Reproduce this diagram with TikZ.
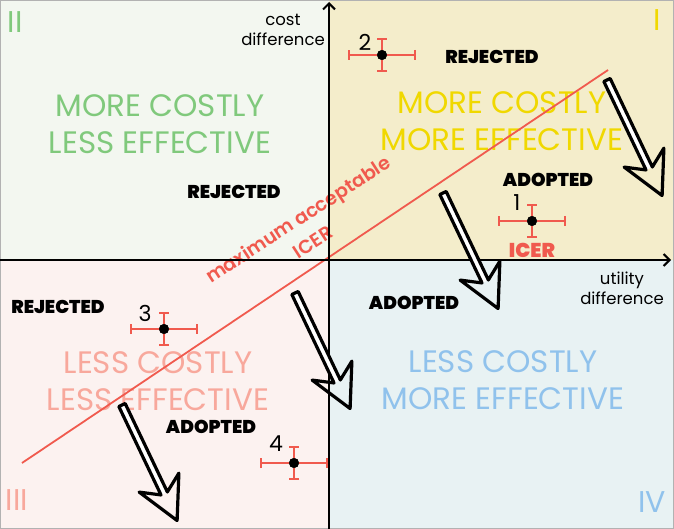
\documentclass[tikz,border=0pt]{standalone}
\usepackage{fontspec}
\setmainfont{Poppins}
\newfontfamily\heavy{Poppins Black}
\newfontfamily\semi{Poppins SemiBold}
\usetikzlibrary{arrows.meta}
\definecolor{bgII}{HTML}{F3F7F0}
\definecolor{bgI}{HTML}{F4EDCB}
\definecolor{bgIII}{HTML}{FCF2F0}
\definecolor{bgIV}{HTML}{E8F2F3}
\definecolor{cgreen}{HTML}{80C97C}
\definecolor{cyellow}{HTML}{F0D800}
\definecolor{csalmon}{HTML}{F8A89C}
\definecolor{cblue}{HTML}{90C2EC}
\definecolor{cred}{HTML}{F05A4E}
\begin{document}
\begin{tikzpicture}[x=1pt,y=-1pt,
 quad/.style={font=\fontsize{31}{37}\selectfont, align=center, inner sep=0pt},
 verdict/.style={font=\heavy\fontsize{18.5}{22}\selectfont, inner sep=0pt},
 axlabel/.style={font=\fontsize{16.5}{20}\selectfont, align=center, inner sep=0pt},
 roman/.style={font=\fontsize{30}{36}\selectfont, inner sep=0pt},
 dot/.style={circle, fill=black, minimum size=10pt, inner sep=0pt},
 num/.style={font=\fontsize{22}{26}\selectfont, inner sep=0pt},
 redtext/.style={text=cred, font=\semi\fontsize{19}{21}\selectfont, rotate=33, inner sep=0pt},
 errbar/.style={draw=cred, line width=1.8pt, {Bar[width=10pt,line width=1.8pt]}-{Bar[width=10pt,line width=1.8pt]}},
 axis/.style={line width=2pt, -{Straight Barb[length=6pt,width=12pt,line width=2pt]}},
 hollow/.pic={
   \fill[white] (0,3.5) rectangle (98,-3.5);
   \draw[line width=3.2pt, line join=round] (0,3.5) -- (98,3.5) -- (86,22) -- (128,0) -- (86,-22) -- (98,-3.5) -- (0,-3.5) -- cycle;
 }
]
\useasboundingbox (0,0) rectangle (674,529);
% quadrant backgrounds
\fill[bgII] (0,0) rectangle (329,260);
\fill[bgI] (329,0) rectangle (674,260);
\fill[bgIII] (0,260) rectangle (329,529);
\fill[bgIV] (329,260) rectangle (674,529);
\draw[black!30, line width=1pt] (0.5,0.5) rectangle (673.5,528.5);

% roman numerals
\node[roman, text=cgreen] (rII) at (15,22) {II};
\node[roman, text=cyellow] (rI) at (657,20) {I};
\node[roman, text=csalmon] (rIII) at (17,500) {III};
\node[roman, text=cblue] (rIV) at (652,502) {IV};

% axis labels
\node[axlabel] (ylab) at (283,30) {cost\\difference};
\node[axlabel] (xlab) at (622,288) {utility\\difference};

% quadrant labels
\node[quad, text=cgreen] (qII) at (160,124) {MORE COSTLY\\LESS EFFECTIVE};
\node[quad, text=cyellow] (qI) at (502,121) {MORE COSTLY\\MORE EFFECTIVE};
\node[quad, text=csalmon] (qIII) at (158,381) {LESS COSTLY\\LESS EFFECTIVE};
\node[quad, text=cblue] (qIV) at (503,380) {LESS COSTLY\\MORE EFFECTIVE};

% verdicts
\node[verdict] (vII) at (234,192) {REJECTED};
\node[verdict] (vIr) at (492,57) {REJECTED};
\node[verdict] (vIa) at (548,180) {ADOPTED};
\node[verdict] (vIIIr) at (58,307) {REJECTED};
\node[verdict] (vIIIa) at (211,427) {ADOPTED};
\node[verdict] (vIV) at (414,303) {ADOPTED};

% ICER threshold line
\coordinate (la) at (22,463);
\coordinate (lb) at (608,70);
\draw[cred, line width=1.8pt] (la) -- (lb);
\node[redtext] (maxacc) at (299,221) {maximum acceptable};
\node[redtext] (maxicer) at (313,242) {ICER};

% axes
\coordinate (xl) at (0,260);
\coordinate (xr) at (671,260);
\coordinate (yb) at (329,529);
\coordinate (yt) at (329,2);
\draw[axis] (xl) -- (xr);
\draw[axis] (yb) -- (yt);

% hollow arrows
\coordinate (a1) at (607,80);
\coordinate (a2) at (443,193);
\coordinate (a3) at (295,293);
\coordinate (a4) at (122,405);
\pic[rotate=-64.5] at (a1) {hollow};
\pic[rotate=-64.5] at (a2) {hollow};
\pic[rotate=-64.5] at (a3) {hollow};
\pic[rotate=-64.5] at (a4) {hollow};

% points with error bars
\node[dot] (p1) at (532,221) {};
\node[dot] (p2) at (382,55) {};
\node[dot] (p3) at (164,329) {};
\node[dot] (p4) at (294,463) {};
\foreach \p in {p1,p2,p3,p4}{
  \draw[errbar] ([xshift=-34pt]\p.center) -- ([xshift=34pt]\p.center);
  \draw[errbar] ([yshift=-17pt]\p.center) -- ([yshift=17pt]\p.center);
}
\node[dot] at (p1) {};
\node[dot] at (p2) {};
\node[dot] at (p3) {};
\node[dot] at (p4) {};
\node[num] (n1) at (517,203) {1};
\node[num] (n2) at (365,42) {2};
\node[num] (n3) at (145,313) {3};
\node[num] (n4) at (276,444) {4};
\node[verdict, text=cred, font=\heavy\fontsize{20}{22}\selectfont] (icer) at (532,250) {ICER};
\end{tikzpicture}
\end{document}
